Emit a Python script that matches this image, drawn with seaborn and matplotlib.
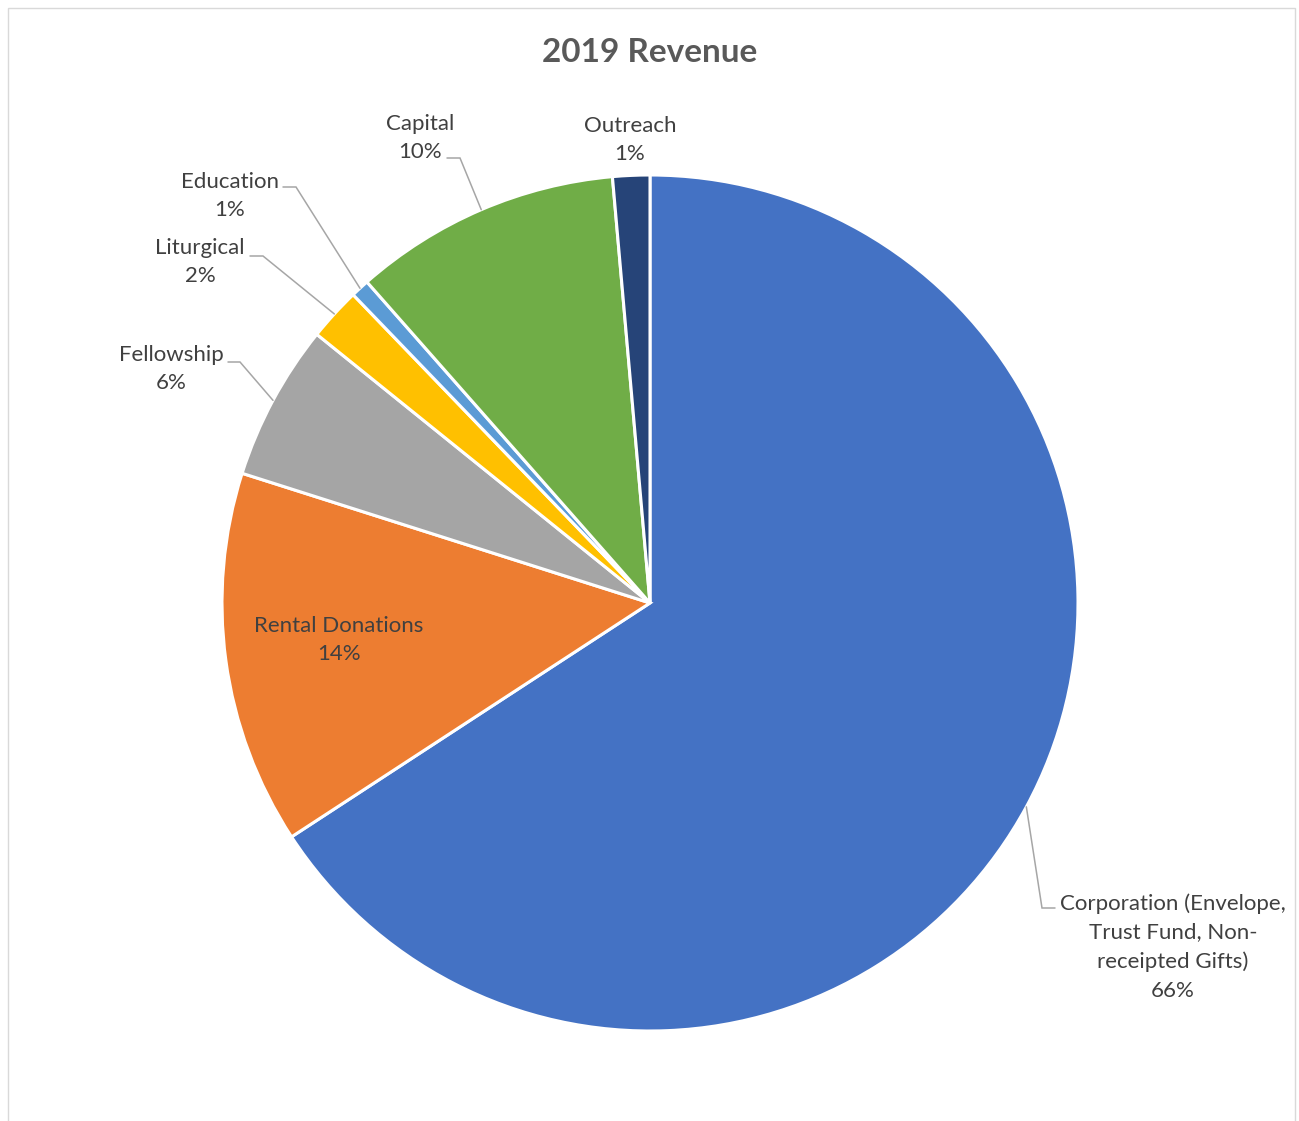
import numpy as np
import matplotlib
matplotlib.use("Agg")
import matplotlib.pyplot as plt
import matplotlib.patches as mpatches
import seaborn as sns

# -----------------------------
# Data
# -----------------------------
categories = ["Corporation (Envelope,\nTrust Fund, Non-\nreceipted Gifts)",
              "Rental Donations", "Fellowship", "Liturgical",
              "Education", "Capital", "Outreach"]
shares = [65.8, 14.1, 5.9, 2.0, 0.7, 10.1, 1.4]
pct_labels = ["66%", "14%", "6%", "2%", "1%", "10%", "1%"]
colors = ["#4472C4", "#ED7D31", "#A5A5A5", "#FFC000", "#5B9BD5", "#70AD47", "#264478"]

# -----------------------------
# Style
# -----------------------------
sns.set_style("white")
plt.rcParams['font.family'] = ['Lato', 'DejaVu Sans']
text_col = "#404040"
line_col = "#A6A6A6"

W, H = 1299, 1121
CX, CY, R = 650, 603, 428   # pie centre / radius in pixels


def px(x, y):
    # pixel position -> data units (pie radius = 1)
    return (x - CX) / R, (CY - y) / R


fig = plt.figure(figsize=(W / 100, H / 100), dpi=100)
ax = fig.add_axes([0, 0, 1, 1])

wedges, _ = ax.pie(shares, colors=colors, startangle=90, counterclock=False,
                   radius=1, wedgeprops=dict(edgecolor="white", linewidth=2.2))

# pie() resets the limits, so set them afterwards (1 unit = R pixels)
ax.set_aspect("auto")
ax.set_xlim(-CX / R, (W - CX) / R)
ax.set_ylim(-(H - CY) / R, CY / R)
ax.axis("off")

# chart border
fig.patches.append(mpatches.Rectangle((8 / W, -0.01), (1295 - 8) / W, (H - 8) / H + 0.01,
                                      transform=fig.transFigure, fill=False,
                                      edgecolor="#D9D9D9", linewidth=1.0))

# title
fig.text(0.5, 1 - 52 / H, "2019 Revenue", ha="center", va="center",
         fontsize=24, fontweight="bold", color="#595959")

# label positions (pixel centres) and leader line elbows
label_pos = {
    0: (1173, 947),
    1: (339, 640),
    2: (171, 369),
    3: (200, 262),
    4: (230, 196),
    5: (420, 138),
    6: (630, 140),
}
elbows = {
    0: [(1055, 908), (1042, 908)],
    2: [(228, 362), (240, 362)],
    3: [(250, 256), (263, 256)],
    4: [(283, 187), (296, 187)],
    5: [(447, 158), (460, 158)],
}

for i, w in enumerate(wedges):
    name = categories[i]
    lx, ly = px(*label_pos[i])
    ax.text(lx, ly, f"{name}\n{pct_labels[i]}", ha="center", va="center",
            fontsize=16, color=text_col, linespacing=1.55)
    if i in elbows:
        mid = np.deg2rad((w.theta1 + w.theta2) / 2)
        ex, ey = np.cos(mid), np.sin(mid)
        pts = [px(*p) for p in elbows[i]] + [(ex, ey)]
        xs, ys = zip(*pts)
        ax.plot(xs, ys, color=line_col, linewidth=1.1, solid_joinstyle="miter")

fig.savefig("out.png", dpi=100, facecolor="white")
